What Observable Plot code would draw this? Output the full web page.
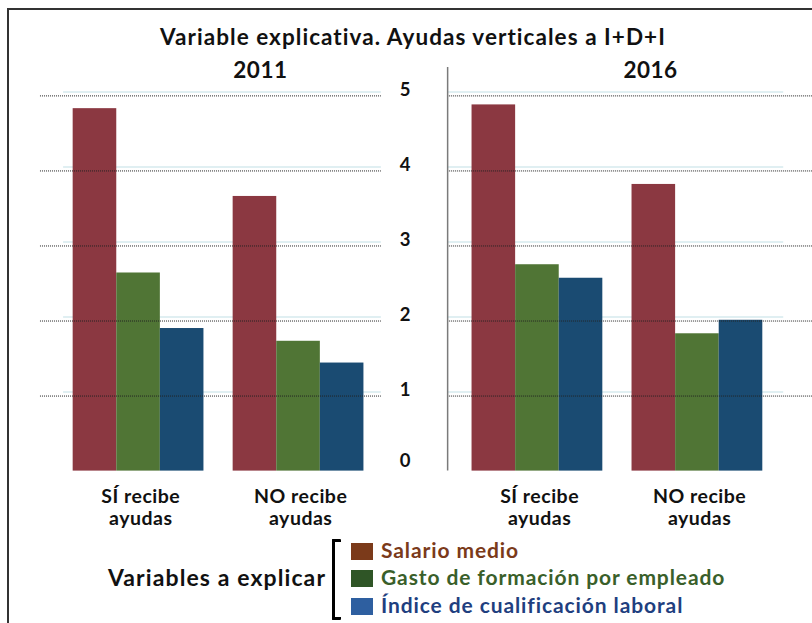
<!DOCTYPE html>
<html><head><meta charset="utf-8">
<script src="https://cdn.jsdelivr.net/npm/d3@7"></script>
<script src="https://cdn.jsdelivr.net/npm/@observablehq/plot@0.6"></script>
<style>
body{margin:0;background:#fff;}
#wrap{position:relative;width:812px;height:623px;overflow:hidden;font-family:Lato,"Open Sans",sans-serif;font-weight:bold;color:#111;}
#frame{position:absolute;left:7px;top:8px;width:830px;height:640px;border-left:2px solid #333;border-top:2px solid #333;}
#title{position:absolute;top:24px;left:0;width:826px;text-align:center;font-size:22.5px;letter-spacing:1.05px;line-height:26px;white-space:nowrap;}
#plot{position:absolute;left:0;top:55px;}
#varlab{position:absolute;left:108px;top:564px;font-size:23px;letter-spacing:1.1px;line-height:26px;white-space:nowrap;}
#bracket{position:absolute;left:332px;top:539px;width:6px;height:75px;border:3px solid #000;border-right:none;border-radius:1px;}
.row{position:absolute;left:351px;height:22px;white-space:nowrap;font-size:21px;letter-spacing:0.9px;line-height:22px;}
.sw{display:inline-block;width:22px;height:17px;vertical-align:-2px;margin-right:8px;}
.chart text{letter-spacing:0.5px;}
</style></head>
<body><div id="wrap">
<div id="frame"></div>
<div id="title">Variable explicativa. Ayudas verticales a I+D+I</div>
<div id="plot"></div>
<div id="varlab">Variables a explicar</div>
<div id="bracket"></div>
<div id="legend"></div>
</div>
<script>
// ---- data ----
const years = ["2011", "2016"];
const groups = ["SÍ recibe\nayudas", "NO recibe\nayudas"];
const series = ["Salario medio", "Gasto de formación por empleado", "Índice de cualificación laboral"];
// order: 2011 SÍ, 2011 NO, 2016 SÍ, 2016 NO
const salario = [4.83, 3.66, 4.88, 3.82];
const gasto   = [2.64, 1.73, 2.75, 1.83];
const indice  = [1.90, 1.44, 2.57, 2.01];
const yTicks = [0, 1, 2, 3, 4, 5];
const barColors = ["#8B3841", "#507535", "#1A4B72"];
const legendSwatch = ["#7B3A1A", "#2F5526", "#2E5FA0"];
const legendText = ["#7B3A1A", "#3A5F2A", "#1F3F7F"];

// ---- layout (in bar-width units) ----
const GROUP_STEP = 3.67, PANEL_STEP = 9.15;
const panelWidth = GROUP_STEP + 3;
const headerShift = [0.96, 0.76];
const seriesValues = [salario, gasto, indice];

const table = [];
years.forEach((yr, yi) => groups.forEach((g, gi) => series.forEach((s, si) => {
  const x1 = yi * PANEL_STEP + gi * GROUP_STEP + si;
  table.push({year: yr, group: g, serie: s, value: seriesValues[si][yi * 2 + gi], x1, x2: x1 + 1});
})));
const groupLabels = [];
years.forEach((yr, yi) => groups.forEach((g, gi) => groupLabels.push({label: g, x: yi * PANEL_STEP + gi * GROUP_STEP + 1.55})));
const headers = years.map((yr, yi) => ({label: yr, x: yi * PANEL_STEP + panelWidth / 2 + headerShift[yi]}));

const gridTicks = yTicks.slice(1);
const leftGrid = [-0.75, panelWidth + 0.4];
const axisX = PANEL_STEP - 0.56;
const rightGrid = [axisX, 17];
const labelX = axisX - 0.97;

const chart = Plot.plot({
  className: "chart",
  width: 812, height: 480,
  marginLeft: 0, marginRight: 0, marginTop: 40.4, marginBottom: 64.4,
  x: {domain: [-1.667, 16.96], axis: null},
  y: {domain: [0, 5], axis: null},
  color: {domain: series, range: barColors},
  style: {fontFamily: "Lato, 'Open Sans', sans-serif", fontWeight: "bold", background: "transparent", color: "#111"},
  marks: [
    Plot.ruleY(gridTicks, {x1: leftGrid[0] + 0.53, x2: leftGrid[1], stroke: "#d6eaee", strokeWidth: 1.5, dy: -4}),
    Plot.ruleY(gridTicks, {x1: axisX, x2: 16.3, stroke: "#d6eaee", strokeWidth: 1.5, dy: -4}),
    Plot.rect(table, {x1: "x1", x2: "x2", y1: 0, y2: "value", fill: "serie"}),
    Plot.ruleY(gridTicks, {x1: leftGrid[0], x2: leftGrid[1], stroke: "#222", strokeWidth: 1, strokeDasharray: "1,1"}),
    Plot.ruleY(gridTicks, {x1: rightGrid[0], x2: rightGrid[1], stroke: "#222", strokeWidth: 1, strokeDasharray: "1,1"}),
    Plot.ruleX([axisX], {y1: 0, y2: 5.38, stroke: "#7a7a7a", strokeWidth: 1.5}),
    Plot.text(gridTicks, {x: labelX, y: d => d, text: d => String(d), dy: -6, fontSize: 18.5, fontWeight: "bold", fill: "#111"}),
    Plot.text([0], {x: labelX, y: d => d, text: d => String(d), dy: -10, fontSize: 18.5, fontWeight: "bold", fill: "#111"}),
    Plot.text(groupLabels, {x: "x", y: 0, text: "label", lineAnchor: "top", dy: 17, fontSize: 19.5, lineHeight: 1.1, fontWeight: "bold", fill: "#111"}),
    Plot.text(headers, {x: "x", y: 5.34, text: "label", fontSize: 22.5, fontWeight: "bold", fill: "#111"})
  ]
});
document.getElementById("plot").appendChild(chart);

// ---- legend ----
const legend = document.getElementById("legend");
const rowTops = [539, 566, 594];
series.forEach((s, i) => {
  const row = document.createElement("div");
  row.className = "row";
  row.style.top = rowTops[i] + "px";
  row.style.color = legendText[i];
  row.innerHTML = `<span class="sw" style="background:${legendSwatch[i]}"></span>${s}`;
  legend.appendChild(row);
});
</script>
</body></html>
